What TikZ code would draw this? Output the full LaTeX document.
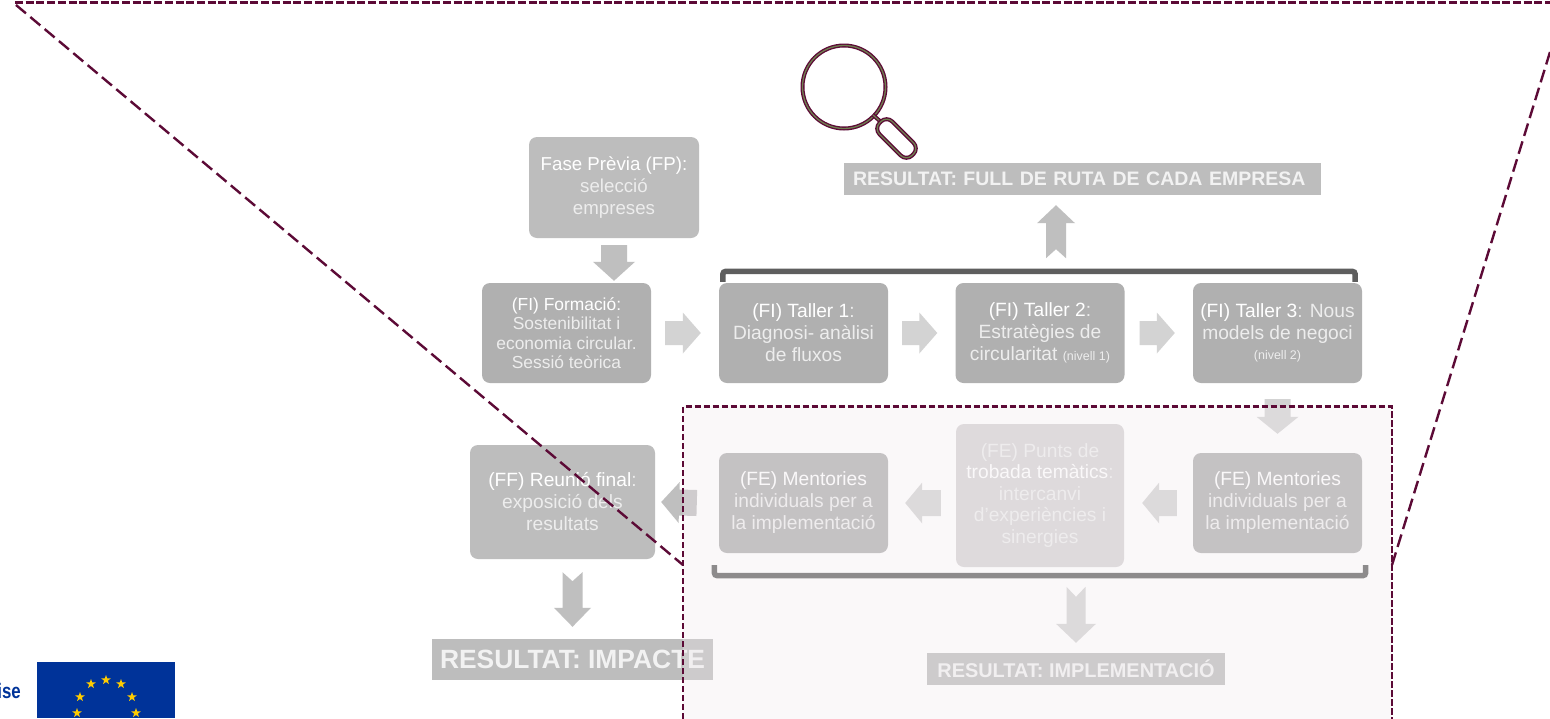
\documentclass[tikz,border=0pt]{standalone}
\usepackage{fontspec}
\setmainfont{Liberation Sans}
\usetikzlibrary{calc,shapes.geometric}
\definecolor{maroon}{HTML}{5C0A36}
\definecolor{olivering}{HTML}{6F7F4F}
\definecolor{eublue}{HTML}{003399}
\definecolor{eustar}{HTML}{FFCC00}
\definecolor{boxA}{HTML}{BDBDBD}
\definecolor{boxB}{HTML}{B0B0B0}
\definecolor{boxC}{HTML}{D5D3D4}
\definecolor{arrowlight}{HTML}{D3D3D3}
\definecolor{arrowdark}{HTML}{BFBFBF}
\definecolor{barcol}{HTML}{5E5E5E}
\definecolor{txt}{HTML}{EDEDED}
\tikzset{
  stagebox/.style={rounded corners=8pt,align=center,text=txt,inner sep=0pt,
    font=\fontsize{19.2}{22}\selectfont},
  resultbox/.style={fill=boxA,text=white!95!black,inner sep=0pt,font=\bfseries},
  dashline/.style={draw=maroon,line width=2.4pt,dash pattern=on 13pt off 5.7pt},
  topline/.style={draw=maroon,line width=2.4pt,dash pattern=on 8pt off 2.7pt},
  panelline/.style={draw=maroon,line width=2.4pt,dash pattern=on 6.5pt off 2.5pt},
  bracket/.style={draw=barcol,line width=5.5pt,rounded corners=3pt},
  lensring/.style={draw=maroon,line width=4pt},
  lenscore/.style={draw=olivering,line width=1.3pt},
  eustarshape/.style={star,star points=5,star point ratio=2.5,fill=eustar,inner sep=0pt,minimum size=10pt}
}
\newcommand\blockarrow[7][]{%
  \fill[#1] ($(#2)!#4!90:(#3)$) -- ($(#3)!#6!(#2)!#4!-90:(#2)$) -- ($(#3)!#6!(#2)!#5!-90:(#2)$) -- (#3)
    -- ($(#3)!#6!(#2)!#5!90:(#2)$) -- ($(#3)!#6!(#2)!#4!90:(#2)$) -- ($(#2)!#4!-90:(#3)$) -- ($(#2)!#7!(#3)$) -- cycle;}
\newcommand\hi[1]{\textcolor{white}{#1}}
\begin{document}
\begin{tikzpicture}[x=1pt,y=-1pt]
\clip (0,0) rectangle (1550,718);
\fill[white] (0,0) rectangle (1550,718);
% EU flag and cut-off word
\fill[eublue] (37,662) rectangle (175,718);
\foreach \n/\sx/\sy in {s1/106/680,s2/91/684,s3/121/684,s4/80/697,s5/132/697,s6/77/713,s7/136/713}
  \node[eustarshape] (\n) at (\sx,\sy) {};
\node[anchor=east,inner sep=0pt,text=eublue,font=\bfseries\fontsize{21}{21}\selectfont] (cutword) at (21,691) {\scalebox{.8}[1]{ise}};
% stage boxes
\node[stagebox,fill=boxA,minimum width=170pt,minimum height=101pt,font=\fontsize{18.7}{22}\selectfont] (fp) at (614,187.5) {\hi{Fase Prèvia (FP):}\\selecció\\empreses};
\node[stagebox,fill=boxB,minimum width=169pt,minimum height=100pt,font=\fontsize{17.4}{19.5}\selectfont] (fi) at (566.5,333) {\hi{(FI) Formació:}\\Sostenibilitat i\\economia circular.\\Sessió teòrica};
\node[stagebox,fill=boxB,minimum width=169pt,minimum height=100pt] (t1) at (803.5,333) {\hi{(FI) Taller 1}:\\Diagnosi- anàlisi\\de fluxos};
\node[stagebox,fill=boxB,minimum width=169pt,minimum height=100pt] (t2) at (1040,333) {\hi{(FI) Taller 2}:\\Estratègies de\\circularitat {\fontsize{12.5}{22}\selectfont(nivell 1)}};
\node[stagebox,fill=boxB,minimum width=169pt,minimum height=100pt] (t3) at (1277.5,333) {\hi{(FI) Taller 3}: Nous\\models de negoci\\[-2pt]{\fontsize{12.5}{16}\selectfont(nivell 2)}};
\node[stagebox,fill=boxB,minimum width=169pt,minimum height=100pt] (m1) at (1277.5,503) {\hi{(FE) Mentories}\\individuals per a\\la implementació};
\node[stagebox,fill=boxC,minimum width=168pt,minimum height=143pt,font=\fontsize{19.2}{21.5}\selectfont] (pt) at (1040,495.5) {(FE) Punts de\\\hi{trobada temàtics}:\\intercanvi\\d’experiències i\\sinergies};
\node[stagebox,fill=boxB,minimum width=169pt,minimum height=100pt] (m2) at (803.5,503) {\hi{(FE) Mentories}\\individuals per a\\la implementació};
\node[stagebox,fill=boxA,minimum width=185pt,minimum height=114pt] (ff) at (562.5,502) {\hi{(FF) Reunió final}:\\exposició dels\\resultats};
% result boxes
\node[resultbox,minimum width=477pt,minimum height=32pt,font=\bfseries\fontsize{19.5}{22}\selectfont,text width=459pt,align=left] (r1) at (1082.5,179) {RESULTAT: FULL DE RUTA DE CADA EMPRESA};
\node[resultbox,minimum width=281pt,minimum height=41pt,font=\bfseries\fontsize{26.4}{28}\selectfont] (r2) at (572.5,659.5) {RESULTAT: IMPACTE};
\node[resultbox,minimum width=298pt,minimum height=32pt,font=\bfseries\fontsize{19.9}{22}\selectfont] (r3) at (1076,669) {RESULTAT: IMPLEMENTACIÓ};
% brackets
\draw[bracket] (t1.north west)++(4,-1) coordinate (b1a) -- ++(0,-10.5) -- ($(t3.north east)+(-7,-11.5)$) -- ++(0,10.5) coordinate (b1b);
\draw[bracket] (m2.south west)++(-4.5,12) coordinate (b2a) -- ++(0,10.5) -- ($(m1.south east)+(3.5,22.5)$) -- ++(0,-10.5) coordinate (b2b);
% block arrows
\coordinate (a1s) at ($(fp.south)+(0,7)$);   \coordinate (a1e) at ($(fi.north)+(47.5,-2)$);
\coordinate (a2s) at ($(fi.east)+(14,0)$);   \coordinate (a2e) at ($(t1.west)+(-18,0)$);
\coordinate (a3s) at ($(t1.east)+(14,0)$);   \coordinate (a3e) at ($(t2.west)+(-18,0)$);
\coordinate (a4s) at ($(t2.east)+(15,0)$);   \coordinate (a4e) at ($(t3.west)+(-18,0)$);
\coordinate (a5s) at ($(t3.south)+(0,16)$);  \coordinate (a5e) at ($(m1.north)+(0,-19)$);
\coordinate (a6s) at ($(m1.west)+(-16,0)$);  \coordinate (a6e) at ($(pt.east)+(18,7.5)$);
\coordinate (a7s) at ($(pt.west)+(-15,7.5)$);\coordinate (a7e) at ($(m2.east)+(17,0)$);
\coordinate (a8s) at ($(m2.west)+(-22,0)$);  \coordinate (a8e) at ($(ff.east)+(6,0)$);
\coordinate (a9s) at ($(ff.south)+(10,13)$); \coordinate (a9e) at ($(r2.north)+(0,-12)$);
\coordinate (a10s) at ($(r1.south)+(-26.5,63)$); \coordinate (a10e) at ($(r1.south)+(-26.5,10)$);
\coordinate (a11s) at ($(r3.north)+(0,-66)$); \coordinate (a11e) at ($(r3.north)+(0,-10)$);
\blockarrow[arrowdark]{a1s}{a1e}{13pt}{21pt}{19pt}{0pt}
\blockarrow[arrowlight]{a2s}{a2e}{12pt}{20.5pt}{18pt}{0pt}
\blockarrow[arrowlight]{a3s}{a3e}{12pt}{20.5pt}{18pt}{0pt}
\blockarrow[arrowlight]{a4s}{a4e}{12pt}{20.5pt}{18pt}{0pt}
\blockarrow[arrowlight]{a5s}{a5e}{13pt}{21pt}{17pt}{0pt}
\blockarrow[arrowlight]{a6s}{a6e}{13pt}{20.5pt}{17pt}{0pt}
\blockarrow[arrowlight]{a7s}{a7e}{13pt}{20.5pt}{17pt}{0pt}
\blockarrow[arrowdark]{a8s}{a8e}{13pt}{20.5pt}{18pt}{0pt}
\blockarrow[arrowdark]{a9s}{a9e}{10pt}{18.5pt}{19pt}{9pt}
\blockarrow[arrowdark]{a10s}{a10e}{10pt}{19pt}{18pt}{9pt}
\blockarrow[arrowlight]{a11s}{a11e}{9.5pt}{20pt}{19pt}{10pt}
% translucent panel
\fill[fill=white!83!maroon!50!white,fill opacity=.32] (683,406) rectangle (1392,719);
% magnifier
\node[circle,minimum size=83pt,inner sep=0pt,lensring] (lens) at (844,87) {};
\node[circle,minimum size=83pt,inner sep=0pt,lenscore] (lenscorecircle) at (844,87) {};
\draw[maroon,line width=4pt] (873,115) -- (881,122);
\draw[olivering,line width=1.3pt] (873,115) -- (881,122);
\begin{scope}[rotate around={-45:(896.5,138.5)}]
  \node[lensring,rounded corners=8pt,minimum width=46pt,minimum height=18pt,inner sep=0pt,transform shape] (capsule) at (896.5,138.5) {};
  \node[lenscore,rounded corners=8pt,minimum width=46pt,minimum height=18pt,inner sep=0pt,transform shape] (capsulecore) at (896.5,138.5) {};
\end{scope}
% dashed frame
\coordinate (fa) at (15,2.3);
\coordinate (fb) at (1550,2.3);
\coordinate (fc) at (1550,52);
\coordinate (fd) at (1392,565);
\coordinate (fe) at (683,565);
\coordinate (ff2) at (16,5);
\draw[topline] (fa) -- (fb);
\draw[dashline] (ff2) -- (fe);
\draw[dashline] (fc) -- (fd);
\draw[panelline] (683,719) -- (683,406.5) -- (1392,406.5) -- (1392,719);
\end{tikzpicture}
\end{document}
